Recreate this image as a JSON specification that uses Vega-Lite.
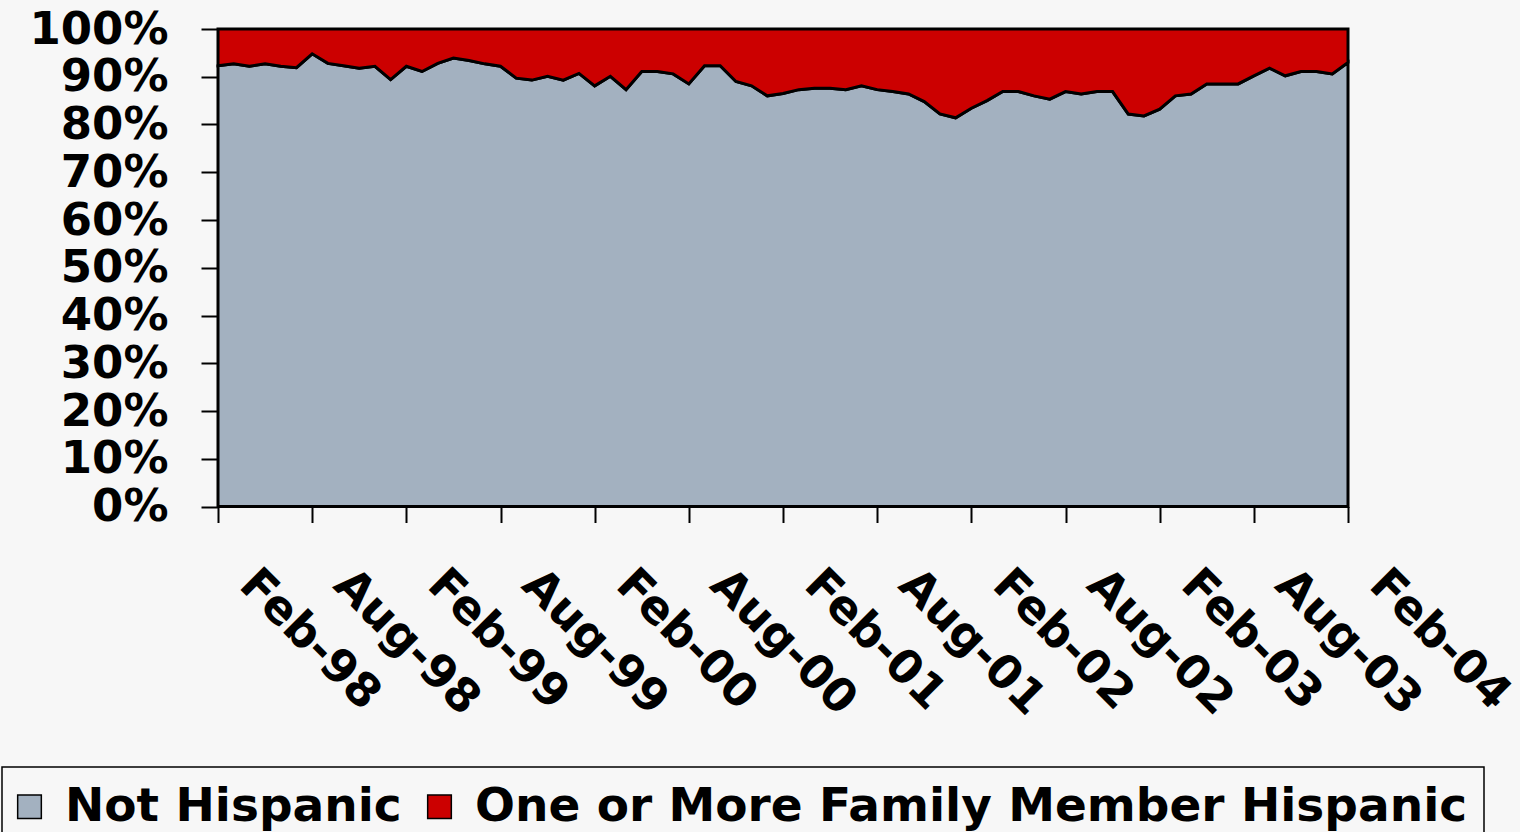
{
  "$schema": "https://vega.github.io/schema/vega-lite/v6.json",
  "width": 1130,
  "height": 477.5,
  "autosize": {"type": "none"},
  "padding": {"left": 218, "top": 29, "right": 172, "bottom": 325.5},
  "background": "#f7f7f7",
  "config": {
    "view": {"stroke": null},
    "axis": {
      "domainColor": "black", "domainWidth": 2,
      "tickColor": "black", "tickWidth": 2,
      "labelColor": "black", "labelFont": "DejaVu Sans", "labelFontWeight": "bold",
      "grid": false, "title": null, "labelLimit": 0
    },
    "legend": {
      "labelFont": "DejaVu Sans", "labelFontWeight": "bold", "labelFontSize": 47, "labelColor": "black",
      "strokeColor": "black", "strokeWidth": 1.5, "padding": 16, "labelLimit": 0
    }
  },
  "data": {"values": [
    {"month": "Feb-98", "pct": 92.3}, {"month": "Mar-98", "pct": 92.7}, {"month": "Apr-98", "pct": 92.2},
    {"month": "May-98", "pct": 92.7}, {"month": "Jun-98", "pct": 92.2}, {"month": "Jul-98", "pct": 91.9},
    {"month": "Aug-98", "pct": 94.8}, {"month": "Sep-98", "pct": 92.8}, {"month": "Oct-98", "pct": 92.3},
    {"month": "Nov-98", "pct": 91.8}, {"month": "Dec-98", "pct": 92.2}, {"month": "Jan-99", "pct": 89.4},
    {"month": "Feb-99", "pct": 92.2}, {"month": "Mar-99", "pct": 91.1}, {"month": "Apr-99", "pct": 92.8},
    {"month": "May-99", "pct": 93.9}, {"month": "Jun-99", "pct": 93.4}, {"month": "Jul-99", "pct": 92.7},
    {"month": "Aug-99", "pct": 92.2}, {"month": "Sep-99", "pct": 89.7}, {"month": "Oct-99", "pct": 89.3},
    {"month": "Nov-99", "pct": 90.1}, {"month": "Dec-99", "pct": 89.3}, {"month": "Jan-00", "pct": 90.7},
    {"month": "Feb-00", "pct": 88.1}, {"month": "Mar-00", "pct": 90.1}, {"month": "Apr-00", "pct": 87.3},
    {"month": "May-00", "pct": 91.1}, {"month": "Jun-00", "pct": 91.1}, {"month": "Jul-00", "pct": 90.6},
    {"month": "Aug-00", "pct": 88.5}, {"month": "Sep-00", "pct": 92.3}, {"month": "Oct-00", "pct": 92.3},
    {"month": "Nov-00", "pct": 89.0}, {"month": "Dec-00", "pct": 88.1}, {"month": "Jan-01", "pct": 86.0},
    {"month": "Feb-01", "pct": 86.5}, {"month": "Mar-01", "pct": 87.3}, {"month": "Apr-01", "pct": 87.6},
    {"month": "May-01", "pct": 87.6}, {"month": "Jun-01", "pct": 87.3}, {"month": "Jul-01", "pct": 88.1},
    {"month": "Aug-01", "pct": 87.3}, {"month": "Sep-01", "pct": 86.9}, {"month": "Oct-01", "pct": 86.4},
    {"month": "Nov-01", "pct": 84.8}, {"month": "Dec-01", "pct": 82.2}, {"month": "Jan-02", "pct": 81.4},
    {"month": "Feb-02", "pct": 83.4}, {"month": "Mar-02", "pct": 85.0}, {"month": "Apr-02", "pct": 86.9},
    {"month": "May-02", "pct": 86.9}, {"month": "Jun-02", "pct": 86.0}, {"month": "Jul-02", "pct": 85.3},
    {"month": "Aug-02", "pct": 86.9}, {"month": "Sep-02", "pct": 86.4}, {"month": "Oct-02", "pct": 86.9},
    {"month": "Nov-02", "pct": 86.9}, {"month": "Dec-02", "pct": 82.2}, {"month": "Jan-03", "pct": 81.8},
    {"month": "Feb-03", "pct": 83.2}, {"month": "Mar-03", "pct": 86.0}, {"month": "Apr-03", "pct": 86.4},
    {"month": "May-03", "pct": 88.5}, {"month": "Jun-03", "pct": 88.5}, {"month": "Jul-03", "pct": 88.5},
    {"month": "Aug-03", "pct": 90.2}, {"month": "Sep-03", "pct": 91.8}, {"month": "Oct-03", "pct": 90.2},
    {"month": "Nov-03", "pct": 91.1}, {"month": "Dec-03", "pct": 91.1}, {"month": "Jan-04", "pct": 90.6},
    {"month": "Feb-04", "pct": 93.0}
  ]},
  "encoding": {
    "x": {
      "field": "month", "type": "ordinal", "sort": null,
      "scale": {"type": "point", "padding": 0},
      "axis": {
        "values": ["Feb-98", "Aug-98", "Feb-99", "Aug-99", "Feb-00", "Aug-00", "Feb-01", "Aug-01", "Feb-02", "Aug-02", "Feb-03", "Aug-03", "Feb-04"],
        "labelAngle": 45, "labelAlign": "left", "labelBaseline": "alphabetic",
        "labelFontSize": 46, "tickSize": 16, "labelPadding": 64, "labelOffset": 19,
        "labelOverlap": false, "labelBound": false
      }
    }
  },
  "layer": [
    {
      "mark": {"type": "area", "stroke": "black", "strokeWidth": 3, "strokeJoin": "miter"},
      "encoding": {
        "y": {
          "field": "pct", "type": "quantitative", "stack": null,
          "scale": {"domain": [0, 100], "nice": false},
          "axis": {
            "values": [0, 10, 20, 30, 40, 50, 60, 70, 80, 90, 100],
            "labelExpr": "datum.value + '%'",
            "labelFontSize": 45, "tickSize": 17, "labelPadding": 33
          }
        },
        "color": {
          "datum": "Not Hispanic", "type": "nominal",
          "scale": {"domain": ["Not Hispanic", "One or More Family Member Hispanic"], "range": ["#A3B1C0", "#CC0000"]},
          "legend": {
            "title": null, "orient": "none", "legendX": -216, "legendY": 738, "direction": "horizontal",
            "symbolType": "square", "symbolSize": 560, "symbolStrokeColor": "#333333", "symbolStrokeWidth": 1.5,
            "symbolOpacity": 1, "symbolOffset": -12, "labelOffset": 12, "columnPadding": 22
          }
        }
      }
    },
    {
      "mark": {"type": "area", "stroke": "black", "strokeWidth": 3, "strokeJoin": "miter"},
      "encoding": {
        "y": {"field": "pct", "type": "quantitative", "stack": null},
        "y2": {"datum": 100},
        "color": {"datum": "One or More Family Member Hispanic", "type": "nominal"}
      }
    }
  ]
}
